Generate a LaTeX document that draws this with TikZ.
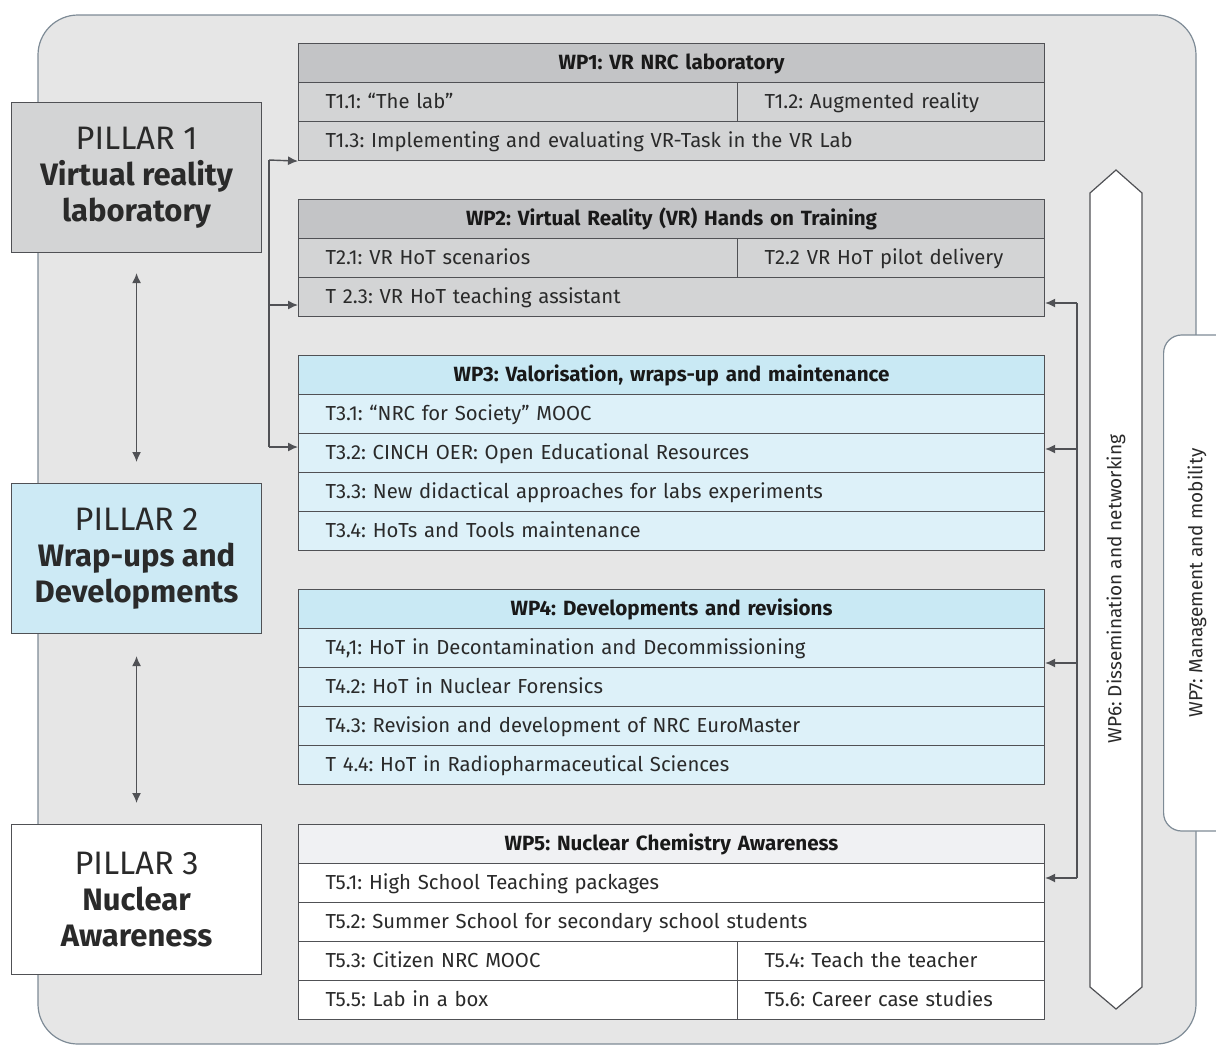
\documentclass[tikz,border=0pt]{standalone}
\usepackage{fontspec}
\setmainfont{Fira Sans}
\usetikzlibrary{arrows.meta,calc}
\definecolor{lineC}{HTML}{505155}
\definecolor{outerC}{HTML}{7E8B96}
\definecolor{bgC}{HTML}{E6E6E6}
\definecolor{greyH}{HTML}{C3C4C6}
\definecolor{greyR}{HTML}{D3D4D5}
\definecolor{blueH}{HTML}{C9E9F4}
\definecolor{blueR}{HTML}{DDF1F9}
\definecolor{whiteH}{HTML}{F0F1F3}
\definecolor{pilB}{HTML}{CDEAF5}
\definecolor{txtC}{HTML}{2A2A2A}
\frenchspacing
\newcommand{\pb}[1]{{\fontsize{31}{36}\selectfont\bfseries #1}}
\begin{document}
\begin{tikzpicture}[x=1pt,y=-1pt,
  cell/.style={draw=lineC, line width=1.1pt, anchor=north west, minimum height=39pt,
    inner ysep=0pt, text height=16pt, text depth=4pt, text=txtC,
    font=\fontsize{20.3}{23}\selectfont},
  full/.style={cell, inner xsep=27pt, text width=692pt, align=left},
  lefthalf/.style={cell, inner xsep=27pt, text width=385pt, align=left},
  righthalf/.style={cell, inner xsep=27pt, text width=253pt, align=left},
  head/.style={cell, inner xsep=0pt, text width=746pt, align=center, text=black!90,
    font=\fontsize{20.6}{23}\selectfont\bfseries},
  pillar/.style={draw=lineC, line width=1.1pt, anchor=north west, minimum width=250pt,
    minimum height=150pt, inner sep=0pt, align=center, text=txtC,
    font=\fontsize{32.5}{36}\selectfont},
  arr/.style={draw=lineC, line width=1.4pt, -{Latex[length=10pt,width=9pt]}},
  darr/.style={draw=lineC, line width=1.4pt, {Latex[length=10pt,width=9pt]}-{Latex[length=10pt,width=9pt]}},
  conn/.style={draw=lineC, line width=1.4pt},
  vlabel/.style={rotate=90, text=txtC, font=\fontsize{19}{22}\selectfont}
]
\useasboundingbox (0,0) rectangle (1216,1045);
% outer frame
\path[draw=outerC, fill=bgC, line width=1.2pt, rounded corners=40pt] (38,15) rectangle (1196,1044);
% WP7 tab
\node[draw=outerC, fill=white, line width=1.2pt, rounded corners=18pt, minimum width=120pt,
  minimum height=496pt, anchor=west] (wp7) at (1163,583) {};
\node[vlabel] (wp7lab) at (1197,583) {WP7: Management and mobility};
% WP6 arrow
\path[draw=lineC, fill=white, line width=1.2pt] (1090,193) -- (1116,170) -- (1142,193)
  -- (1142,987) -- (1116,1009) -- (1090,987) -- cycle;
\node[vlabel] (wp6lab) at (1116,589) {WP6: Dissemination and networking};
% Pillars
\node[pillar, fill=greyR] (p1) at (11,102) {PILLAR 1\\\pb{Virtual reality}\\\pb{laboratory}};
\node[pillar, fill=pilB] (p2) at (11,483) {PILLAR 2\\\pb{Wrap-ups and}\\\pb{Developments}};
\node[pillar, fill=white] (p3) at (11,824) {PILLAR 3\\\pb{Nuclear}\\\pb{Awareness}};
\draw[darr] ($(p1.south)+(0,20)$) -- ($(p2.north)+(0,-21)$);
\draw[darr] ($(p2.south)+(0,22)$) -- ($(p3.north)+(0,-21)$);
% WP1
\node[head, fill=greyH] (h1) at (298,43) {WP1: VR NRC laboratory};
\node[lefthalf, fill=greyR] (t11) at (298,82) {T1.1: “The lab”};
\node[righthalf, fill=greyR] (t12) at (737,82) {T1.2: Augmented reality};
\node[full, fill=greyR] (t13) at (298,121) {T1.3: Implementing and evaluating VR-Task in the VR Lab};
% WP2
\node[head, fill=greyH] (h2) at (298,199) {WP2: Virtual Reality (VR) Hands on Training};
\node[lefthalf, fill=greyR] (t21) at (298,238) {T2.1: VR HoT scenarios};
\node[righthalf, fill=greyR] (t22) at (737,238) {T2.2 VR HoT pilot delivery};
\node[full, fill=greyR] (t23) at (298,277) {T 2.3: VR HoT teaching assistant};
% WP3
\node[head, fill=blueH] (h3) at (298,355) {WP3: Valorisation, wraps-up and maintenance};
\node[full, fill=blueR] (t31) at (298,394) {T3.1: “NRC for Society” MOOC};
\node[full, fill=blueR] (t32) at (298,433) {T3.2: CINCH OER: Open Educational Resources};
\node[full, fill=blueR] (t33) at (298,472) {T3.3: New didactical approaches for labs experiments};
\node[full, fill=blueR] (t34) at (298,511) {T3.4: HoTs and Tools maintenance};
% WP4
\node[head, fill=blueH] (h4) at (298,589) {WP4: Developments and revisions};
\node[full, fill=blueR] (t41) at (298,628) {T4,1: HoT in Decontamination and Decommissioning};
\node[full, fill=blueR] (t42) at (298,667) {T4.2: HoT in Nuclear Forensics};
\node[full, fill=blueR] (t43) at (298,706) {T4.3: Revision and development of NRC EuroMaster};
\node[full, fill=blueR] (t44) at (298,745) {T 4.4: HoT in Radiopharmaceutical Sciences};
% WP5
\node[head, fill=whiteH] (h5) at (298,824) {WP5: Nuclear Chemistry Awareness};
\node[full, fill=white] (t51) at (298,863) {T5.1: High School Teaching packages};
\node[full, fill=white] (t52) at (298,902) {T5.2: Summer School for secondary school students};
\node[lefthalf, fill=white] (t53) at (298,941) {T5.3: Citizen NRC MOOC};
\node[righthalf, fill=white] (t54) at (737,941) {T5.4: Teach the teacher};
\node[lefthalf, fill=white] (t55) at (298,980) {T5.5: Lab in a box};
\node[righthalf, fill=white] (t56) at (737,980) {T5.6: Career case studies};
% left connector
\coordinate (l1) at (269,160);
\coordinate (l2) at (269,305);
\coordinate (l3) at (269,447);
\draw[conn] (l1) -- (l3);
\draw[arr] (l1) -- (t13.south west);
\draw[arr] (l2) -- (l2 -| t23.west);
\draw[arr] (l3) -- (l3 -| t32.west);
% right connector
\coordinate (r1) at (1077,303);
\coordinate (r2) at (1077,449);
\coordinate (r3) at (1077,663);
\coordinate (r4) at (1077,878);
\draw[conn] (r1) -- (r4);
\draw[arr] (r1) -- (r1 -| t23.east);
\draw[arr] (r2) -- (r2 -| t32.east);
\draw[arr] (r3) -- (r3 -| t41.east);
\draw[arr] (r4) -- (r4 -| t51.east);
\end{tikzpicture}
\end{document}
